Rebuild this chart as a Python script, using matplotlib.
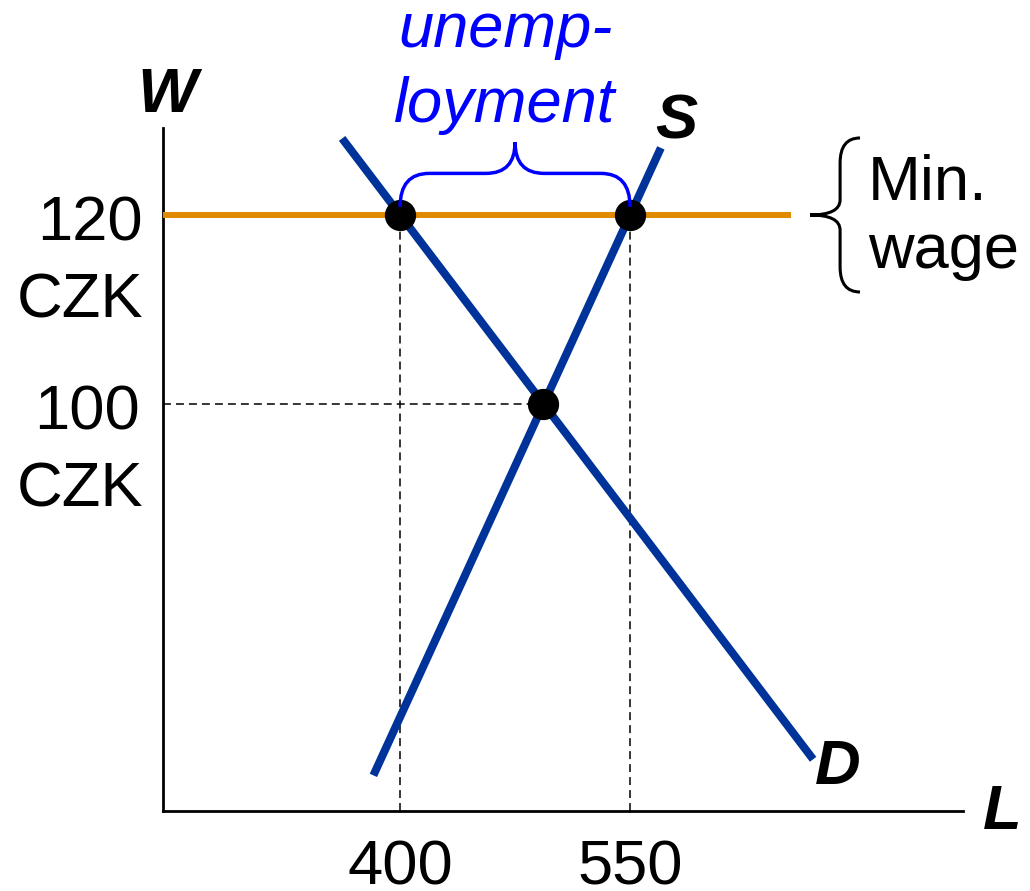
import matplotlib
matplotlib.use("Agg")
import matplotlib.pyplot as plt
from matplotlib.path import Path
from matplotlib.patches import PathPatch

plt.rcParams['font.family'] = ['Liberation Sans', 'DejaVu Sans']

# data (labour market with a minimum wage)
demand_L = [362.2, 669.4]
demand_W = [128.1, 62.4]
supply_L = [382.6, 570.1]
supply_W = [60.7, 127.1]
min_wage = 120
min_wage_L = [245.2, 655.0]
eq_wage = 100
eq_L = 493.5
qd = 400
qs = 550
wage_labels = ["120", "100"]
qty_labels = ["400", "550"]

BLUE = "#003399"
ORANGE = "#E08A00"
FS = 45.5

fig = plt.figure(figsize=(10.3, 8.91), dpi=100)
ax = fig.add_axes([0.158, 0.0898, 0.777, 0.7665])
ax.set_xlim(245.2, 767.2)
ax.set_ylim(56.93, 129.2)
for s in ["top", "right"]:
    ax.spines[s].set_visible(False)
for s in ["left", "bottom"]:
    ax.spines[s].set_linewidth(2)
ax.set_xticks([])
ax.set_yticks([])

# dashed guides
dash = dict(color="black", lw=1.1, dashes=(5.2, 3.3), zorder=2)
ax.plot([qd, qd], [56.93, min_wage], **dash)
ax.plot([qs, qs], [56.93, min_wage], **dash)
ax.plot([245.2, eq_L], [eq_wage, eq_wage], **dash)

# curves
ax.plot(min_wage_L, [min_wage, min_wage], color=ORANGE, lw=4.3, zorder=3,
        solid_capstyle="butt")
ax.plot(demand_L, demand_W, color=BLUE, lw=5.8, zorder=4, solid_capstyle="butt")
ax.plot(supply_L, supply_W, color=BLUE, lw=5.8, zorder=4, solid_capstyle="butt")

# points
ax.plot([qd, qs, eq_L], [min_wage, min_wage, eq_wage], "o", color="black",
        markersize=21.5, zorder=5)

# unemployment brace
mid = (qd + qs) / 2
y0, y1, y2 = 120.85, 124.4, 127.7
verts = [(qd, y0), (qd, y1), (qd + 19, y1),
         (mid - 19, y1), (mid, y1), (mid, y2),
         (mid, y1), (mid + 19, y1),
         (qs - 19, y1), (qs, y1), (qs, y0)]
codes = [Path.MOVETO, Path.CURVE3, Path.CURVE3,
         Path.LINETO, Path.CURVE3, Path.CURVE3,
         Path.CURVE3, Path.CURVE3,
         Path.LINETO, Path.CURVE3, Path.CURVE3]
ax.add_patch(PathPatch(Path(verts, codes), fill=False, edgecolor="#0000FF",
                       lw=2.5, clip_on=False, zorder=6))

# min wage brace
xt, xv, xe = 667.4, 687.0, 700.0
verts = [(xe, 128.15), (xv, 128.15), (xv, 125.5),
         (xv, 121.6), (xv, 120), (xt, 120),
         (xv, 120), (xv, 118.4),
         (xv, 114.5), (xv, 111.85), (xe, 111.85)]
ax.add_patch(PathPatch(Path(verts, codes), fill=False, edgecolor="black",
                       lw=2.2, clip_on=False, zorder=6))

# texts
bi = dict(fontsize=FS, fontweight="bold", fontstyle="italic", ha="center",
          va="center", clip_on=False)
ax.text(248.0, 132.6, "W", **bi)
ax.text(580.0, 129.8, "S", **bi)
ax.text(685.7, 61.5, "D", **bi)
ax.text(792.6, 56.8, "L", **bi)

lab = dict(fontsize=FS, ha="right", va="baseline", clip_on=False)
ax.text(232.4, 117.35, wage_labels[0], **lab)
ax.text(232.4, 109.2, "CZK", **lab)
ax.text(230.5, 97.25, wage_labels[1], **lab)
ax.text(232.4, 89.1, "CZK", **lab)

ax.text(qd, 49.1, qty_labels[0], fontsize=FS, ha="center", va="baseline",
        clip_on=False)
ax.text(qs, 49.1, qty_labels[1], fontsize=FS, ha="center", va="baseline",
        clip_on=False)

blue_txt = dict(fontsize=FS, fontstyle="italic", color="#0000FF", ha="center",
                va="baseline", clip_on=False)
ax.text(468.5, 137.8, "unemp-", **blue_txt)
ax.text(468.5, 129.8, "loyment", **blue_txt)

ax.text(705.2, 121.6, "Min.", fontsize=FS, ha="left", va="baseline",
        clip_on=False)
ax.text(705.2, 114.4, "wage", fontsize=FS, ha="left", va="baseline",
        clip_on=False)

fig.savefig("out.png", dpi=100)
